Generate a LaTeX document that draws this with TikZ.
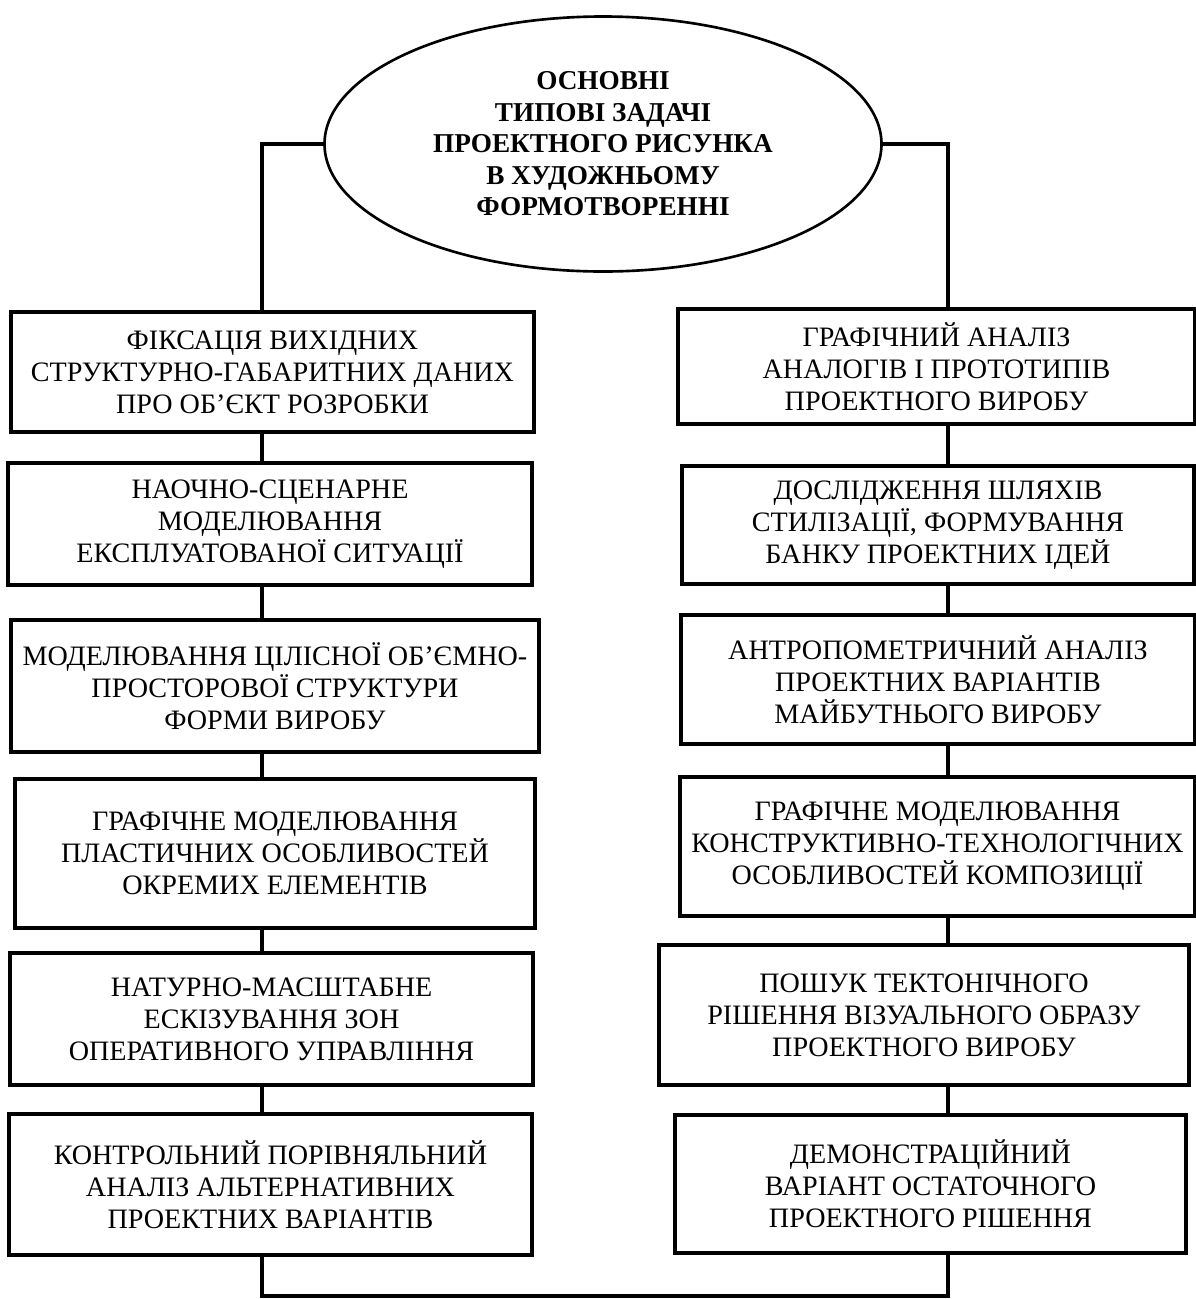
\documentclass[tikz,border=0pt]{standalone}
\usepackage{fontspec}
\setmainfont{Liberation Serif}
\usetikzlibrary{shapes.geometric}
\begin{document}
\begin{tikzpicture}[x=0.02cm,y=-0.02cm,
  stage/.style 2 args={draw=black, line width=1.8pt, align=center, inner sep=0pt,
    font=\fontsize{16}{18.2}\selectfont, minimum width=#1*0.02cm, minimum height=#2*0.02cm},
  link/.style={line width=1.8pt}]
\useasboundingbox (0,0) rectangle (1196,1299);
\node[ellipse, draw=black, line width=1.5pt, inner sep=0pt, minimum width=557*0.02cm, minimum height=255*0.02cm,
  align=center, font=\bfseries\fontsize{15.5}{17.9}\selectfont] (goal) at (603,144)
  {ОСНОВНІ\\ТИПОВІ ЗАДАЧІ\\ПРОЕКТНОГО РИСУНКА\\В ХУДОЖНЬОМУ\\ФОРМОТВОРЕННІ};
\coordinate (ls) at (262,147);
\coordinate (rs) at (948,147);
\coordinate (bot) at (600,1296);
\node[stage={523}{120}] (l1) at (272.5,372) {ФІКСАЦІЯ ВИХІДНИХ\\СТРУКТУРНО-ГАБАРИТНИХ ДАНИХ\\ПРО ОБ’ЄКТ РОЗРОБКИ};
\node[stage={524}{122}] (l2) at (270,524) {НАОЧНО-СЦЕНАРНЕ\\МОДЕЛЮВАННЯ\\ЕКСПЛУАТОВАНОЇ СИТУАЦІЇ};
\node[stage={528}{132}] (l3) at (275,686) {МОДЕЛЮВАННЯ ЦІЛІСНОЇ ОБ’ЄМНО-\\ПРОСТОРОВОЇ СТРУКТУРИ\\ФОРМИ ВИРОБУ};
\node[stage={520}{149}] (l4) at (275,853.5) {ГРАФІЧНЕ МОДЕЛЮВАННЯ\\ПЛАСТИЧНИХ ОСОБЛИВОСТЕЙ\\ОКРЕМИХ ЕЛЕМЕНТІВ};
\node[stage={523}{132}] (l5) at (271.5,1019) {НАТУРНО-МАСШТАБНЕ\\ЕСКІЗУВАННЯ ЗОН\\ОПЕРАТИВНОГО УПРАВЛІННЯ};
\node[stage={523}{141}] (l6) at (270.5,1184.5) {КОНТРОЛЬНИЙ ПОРІВНЯЛЬНИЙ\\АНАЛІЗ АЛЬТЕРНАТИВНИХ\\ПРОЕКТНИХ ВАРІАНТІВ};
\node[stage={517}{115}] (r1) at (936.5,366.5) {ГРАФІЧНИЙ АНАЛІЗ\\АНАЛОГІВ І ПРОТОТИПІВ\\ПРОЕКТНОГО ВИРОБУ};
\node[stage={512}{118}] (r2) at (938,525) {ДОСЛІДЖЕННЯ ШЛЯХІВ\\СТИЛІЗАЦІЇ, ФОРМУВАННЯ\\БАНКУ ПРОЕКТНИХ ІДЕЙ};
\node[stage={514}{129}] (r3) at (938,679.5) {АНТРОПОМЕТРИЧНИЙ АНАЛІЗ\\ПРОЕКТНИХ ВАРІАНТІВ\\МАЙБУТНЬОГО ВИРОБУ};
\node[stage={515}{139}] (r4) at (937.5,846.5) {ГРАФІЧНЕ МОДЕЛЮВАННЯ\\КОНСТРУКТИВНО-ТЕХНОЛОГІЧНИХ\\ОСОБЛИВОСТЕЙ КОМПОЗИЦІЇ};
\node[stage={530}{140}] (r5) at (924,1015) {ПОШУК ТЕКТОНІЧНОГО\\РІШЕННЯ ВІЗУАЛЬНОГО ОБРАЗУ\\ПРОЕКТНОГО ВИРОБУ};
\node[stage={511}{138}] (r6) at (930.5,1184) {ДЕМОНСТРАЦІЙНИЙ\\ВАРІАНТ ОСТАТОЧНОГО\\ПРОЕКТНОГО РІШЕННЯ};
\draw[link] (goal.west) -- (goal.west -| ls) -- (l1.north -| ls);
\draw[link] (goal.east) -- (goal.east -| rs) -- (r1.north -| rs);
\foreach \a/\b in {l1/l2,l2/l3,l3/l4,l4/l5,l5/l6} {
  \draw[link] (\a.south -| ls) -- (\b.north -| ls);
}
\foreach \a/\b in {r1/r2,r2/r3,r3/r4,r4/r5,r5/r6} {
  \draw[link] (\a.south -| rs) -- (\b.north -| rs);
}
\draw[link] (l6.south -| ls) -- (ls |- bot) -- (rs |- bot) -- (r6.south -| rs);
\end{tikzpicture}
\end{document}
